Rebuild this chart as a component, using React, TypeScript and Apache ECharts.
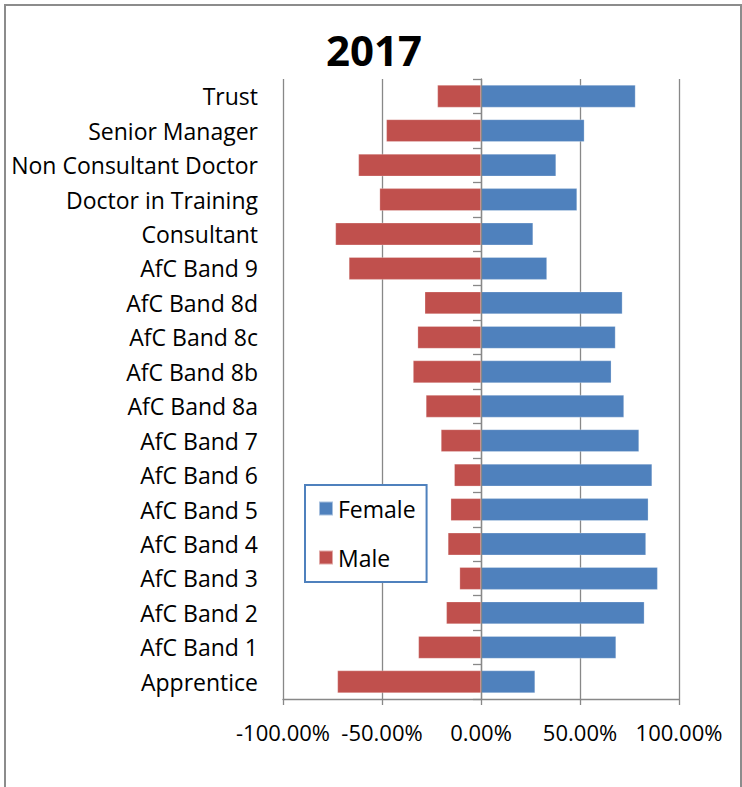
import React, { useEffect, useRef } from "react";
import * as echarts from "echarts";

const categories = [
  "Trust",
  "Senior Manager",
  "Non Consultant Doctor",
  "Doctor in Training",
  "Consultant",
  "AfC Band 9",
  "AfC Band 8d",
  "AfC Band 8c",
  "AfC Band 8b",
  "AfC Band 8a",
  "AfC Band 7",
  "AfC Band 6",
  "AfC Band 5",
  "AfC Band 4",
  "AfC Band 3",
  "AfC Band 2",
  "AfC Band 1",
  "Apprentice",
];

const female = [0.78, 0.522, 0.379, 0.485, 0.263, 0.333, 0.714, 0.679, 0.658, 0.722, 0.798, 0.864, 0.845, 0.833, 0.892, 0.825, 0.682, 0.273];
const male = [0.22, 0.478, 0.619, 0.512, 0.735, 0.667, 0.284, 0.32, 0.343, 0.278, 0.202, 0.135, 0.153, 0.167, 0.108, 0.175, 0.316, 0.725];

const xTicks = { min: -1, max: 1, interval: 0.5 };

const FONT = "'Open Sans', sans-serif";

export default function App() {
  const ref = useRef<HTMLDivElement>(null);
  useEffect(() => {
    if (!ref.current) return;
    const chart = echarts.init(ref.current, null, { renderer: "svg" });
    chart.setOption({
      animation: false,
      backgroundColor: "#fff",
      textStyle: { fontFamily: FONT },
      title: {
        text: "2017",
        left: 326,
        top: 28,
        padding: 0,
        textStyle: { fontFamily: FONT, fontSize: 42, fontWeight: "bold", color: "#000" },
      },
      graphic: [
        {
          type: "rect",
          shape: { x: 5, y: 5, width: 736, height: 820 },
          style: { fill: "none", stroke: "#8c8c8c", lineWidth: 2 },
          silent: true,
          z: 100,
        },
      ],
      legend: {
        orient: "vertical",
        left: 305,
        top: 485,
        padding: [12, 11, 13, 13],
        itemGap: 26,
        itemWidth: 14,
        itemHeight: 14,
        icon: "rect",
        borderColor: "#4F81BD",
        borderWidth: 2,
        backgroundColor: "#fff",
        data: ["Female", "Male"],
        textStyle: { fontFamily: FONT, fontSize: 23, color: "#000" },
      },
      grid: { left: 283, right: 63, top: 79, bottom: 88, containLabel: false },
      xAxis: {
        type: "value",
        min: xTicks.min,
        max: xTicks.max,
        interval: xTicks.interval,
        axisLine: { show: true, lineStyle: { color: "#888", width: 1.3 } },
        axisTick: { show: true, length: 6, lineStyle: { color: "#888", width: 1.3 } },
        splitLine: { show: true, lineStyle: { color: "#888", width: 1.3 } },
        axisLabel: {
          margin: 22,
          fontFamily: FONT,
          fontSize: 22,
          color: "#000",
          formatter: (v: number) => (v * 100).toFixed(2) + "%",
        },
      },
      yAxis: [
        {
          type: "category",
          data: categories,
          inverse: true,
          position: "left",
          axisLine: { show: false, onZero: false },
          axisTick: { show: false },
          axisLabel: { margin: 25, fontFamily: FONT, fontSize: 23, color: "#000", padding: [0, 0, 3, 0] },
        },
        {
          type: "category",
          data: categories,
          inverse: true,
          position: "left",
          axisLine: { show: true, onZero: true, lineStyle: { color: "#888", width: 1.3 } },
          axisTick: { show: true, length: 8, lineStyle: { color: "#888", width: 1.3 } },
          axisLabel: { show: false },
          z: 5,
        },
      ],
      series: [
        {
          name: "Female",
          type: "bar",
          yAxisIndex: 0,
          data: female,
          barGap: "-100%",
          barCategoryGap: "35%",
          itemStyle: { color: "#4F81BD", borderColor: "rgba(255,255,255,0.5)", borderWidth: 0.5 },
        },
        {
          name: "Male",
          type: "bar",
          yAxisIndex: 0,
          data: male.map((v) => -v),
          barGap: "-100%",
          barCategoryGap: "35%",
          itemStyle: { color: "#C0504D", borderColor: "rgba(255,255,255,0.5)", borderWidth: 0.5 },
        },
      ],
    });
    return () => chart.dispose();
  }, []);
  return (
    <div
      ref={ref}
      style={{ position: "fixed", left: 0, top: 0, width: 742, height: 787 }}
    />
  );
}
